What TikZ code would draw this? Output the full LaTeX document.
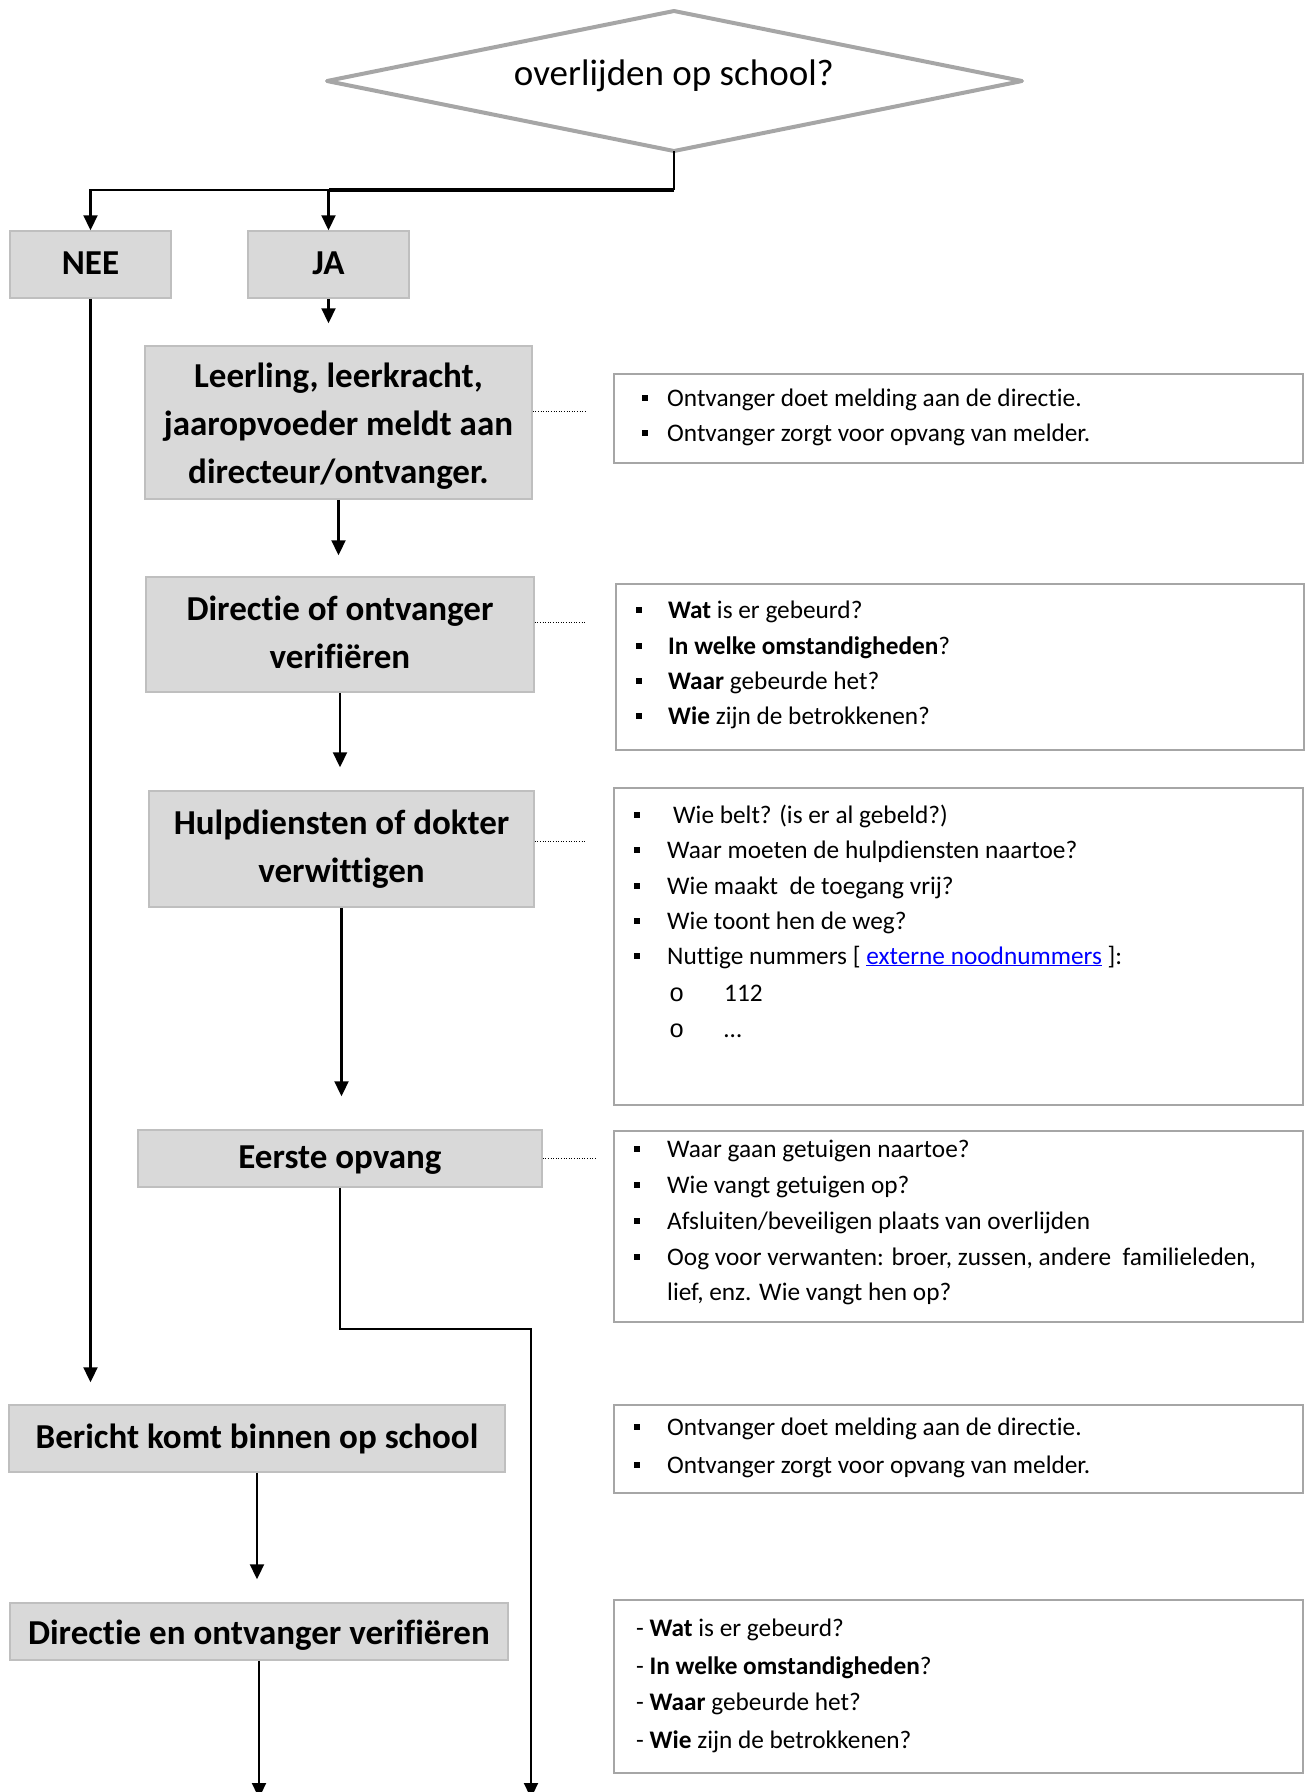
\documentclass[tikz,border=0pt]{standalone}
\usepackage{fontspec}
\setmainfont{Carlito}[Ligatures=NoCommon]
\newfontfamily\subbulfont{Liberation Mono}
\usetikzlibrary{arrows.meta}
\definecolor{boxfill}{HTML}{D9D9D9}
\definecolor{boxline}{HTML}{BFBFBF}
\definecolor{iline}{HTML}{A6A6A6}
\definecolor{dline}{HTML}{A6A6A6}
\definecolor{linkblue}{HTML}{0000FF}
\newcommand\sqb{\rule[5pt]{6pt}{6.5pt}}
\newcommand\bul[1]{\makebox[#1][l]{\sqb}}
\newcommand\subb{\makebox[55pt][l]{\subbulfont o}}
\newcommand\gl[1]{\begin{tabular}{@{}c@{}}#1\end{tabular}}
\newcommand\glshift[2]{\raisebox{#1}[\height][\depth]{\gl{#2}}}
\tikzset{
  gbox/.style={rectangle, fill=boxfill, draw=boxline, line width=1.5pt, inner sep=0pt,
    font=\fontsize{35}{48}\selectfont\bfseries},
  ibox/.style={rectangle, draw=iline, line width=2.5pt, inner sep=0pt},
  itx/.style={anchor=base west, inner sep=0pt, font=\fontsize{25.3}{35}\selectfont},
  conn/.style={line width=2.2pt, draw=black},
  arr/.style={conn, -{Triangle[length=15pt,width=14pt]}},
  dotl/.style={line width=1pt, dash pattern=on 1pt off 1.6pt}
}
\begin{document}
\begin{tikzpicture}[x=1pt,y=-1pt]
\useasboundingbox (0,0) rectangle (1306,1792);
% decision
\coordinate (dtop) at (674,11);
\coordinate (dright) at (1022,81);
\coordinate (dbot) at (674,151);
\coordinate (dleft) at (327,81);
\draw[dline, line width=4pt, line join=round] (dtop) -- (dright) -- (dbot) -- (dleft) -- cycle;
\node[inner sep=0pt, font=\fontsize{37}{44}\selectfont] (dia) at (674,76) {overlijden op school?};
% grey boxes
\node[gbox, minimum width=161, minimum height=67] (nee) at (90.5,264.5) {\gl{NEE}};
\node[gbox, minimum width=161, minimum height=67] (ja) at (328.5,264.5) {\gl{JA}};
\node[gbox, minimum width=387, minimum height=153] (lee) at (338.5,422.5) {\glshift{-3.5pt}{Leerling, leerkracht,\\jaaropvoeder meldt aan\\directeur/ontvanger.}};
\node[gbox, minimum width=388, minimum height=115] (dof) at (340,634.5) {\gl{Directie of ontvanger\\verifiëren}};
\node[gbox, minimum width=385, minimum height=116] (hulp) at (341.5,849) {\gl{Hulpdiensten of dokter\\verwittigen}};
\node[gbox, minimum width=404, minimum height=57] (eer) at (340,1158.5) {\gl{Eerste opvang}};
\node[gbox, minimum width=496, minimum height=67] (ber) at (257,1438.5) {\gl{Bericht komt binnen op school}};
\node[gbox, minimum width=498, minimum height=57] (den) at (259,1631.5) {\glshift{-3pt}{Directie en ontvanger verifiëren}};
% info boxes
\node[ibox, minimum width=689, minimum height=89] (i1) at (958.5,418.5) {};
\node[ibox, minimum width=688, minimum height=166] (i2) at (960,667) {};
\node[ibox, minimum width=689, minimum height=317] (i3) at (958.5,946.5) {};
\node[ibox, minimum width=689, minimum height=191] (i4) at (958.5,1226.5) {};
\node[ibox, minimum width=689, minimum height=88] (i5) at (958.5,1449) {};
\node[ibox, minimum width=689, minimum height=173] (i6) at (958.5,1686.5) {};
% info texts
\node[itx] (t1a) at (642,406) {\bul{25pt}Ontvanger doet melding aan de directie.};
\node[itx] (t1b) at (642,441) {\bul{25pt}Ontvanger zorgt voor opvang van melder.};
\node[itx] (t2a) at (636,618) {\bul{32pt}\textbf{Wat} is er gebeurd?};
\node[itx] (t2b) at (636,654) {\bul{32pt}\textbf{In welke omstandigheden}?};
\node[itx] (t2c) at (636,689) {\bul{32pt}\textbf{Waar} gebeurde het?};
\node[itx] (t2d) at (636,724) {\bul{32pt}\textbf{Wie} zijn de betrokkenen?};
\node[itx] (t3a) at (634,823) {\bul{39pt}Wie belt? (is er al gebeld?)};
\node[itx] (t3b) at (634,858) {\bul{33pt}Waar moeten de hulpdiensten naartoe?};
\node[itx] (t3c) at (634,894) {\bul{33pt}Wie maakt\ \ de toegang vrij?};
\node[itx] (t3d) at (634,929) {\bul{33pt}Wie toont hen de weg?};
\node[itx] (t3e) at (634,964) {\bul{33pt}Nuttige nummers [ \textcolor{linkblue}{\underline{externe noodnummers}} ]:};
\node[itx] (t3f) at (669,1001) {\subb 112};
\node[itx] (t3g) at (669,1037) {\subb\dots};
\node[itx] (t4a) at (634,1157) {\bul{33pt}Waar gaan getuigen naartoe?};
\node[itx] (t4b) at (634,1193) {\bul{33pt}Wie vangt getuigen op?};
\node[itx] (t4c) at (634,1229) {\bul{33pt}Afsluiten/beveiligen plaats van overlijden};
\node[itx] (t4d) at (634,1265) {\bul{33pt}Oog voor verwanten: broer, zussen, andere\ \ familieleden,};
\node[itx] (t4e) at (667,1300) {lief, enz. Wie vangt hen op?};
\node[itx] (t5a) at (634,1435) {\bul{33pt}Ontvanger doet melding aan de directie.};
\node[itx] (t5b) at (634,1473) {\bul{33pt}Ontvanger zorgt voor opvang van melder.};
\node[itx] (t6a) at (636,1636) {- \textbf{Wat} is er gebeurd?};
\node[itx] (t6b) at (636,1674) {- \textbf{In welke omstandigheden}?};
\node[itx] (t6c) at (636,1710) {- \textbf{Waar} gebeurde het?};
\node[itx] (t6d) at (636,1748) {- \textbf{Wie} zijn de betrokkenen?};
% dotted leaders
\draw[dotl] ([yshift=11pt]lee.east) -- ++(53,0);
\draw[dotl] ([yshift=12.5pt]dof.east) -- ++(52,0);
\draw[dotl] ([yshift=8pt]hulp.east) -- ++(52,0);
\draw[dotl] (eer.east) -- ++(53,0);
% connectors
\coordinate (jy) at (0,190);
\draw[conn] (dbot) -- (dbot |- jy);
\draw[conn, line width=4pt] (dbot |- jy) -- (ja.north |- jy);
\draw[arr] (ja.north |- jy) -| (nee.north);
\draw[arr] (ja.north |- jy) -- (ja.north);
\draw[arr, shorten >=22pt] (ja.south) -- (ja.south |- lee.north);
\draw[arr, shorten >=21pt] (lee.south) -- (lee.south |- dof.north);
\draw[arr, shorten >=23pt] (dof.south) -- (dof.south |- hulp.north);
\draw[arr, shorten >=33pt] (hulp.south) -- (hulp.south |- eer.north);
\draw[arr, shorten >=22pt] (nee.south) -- (nee.south |- ber.north);
\coordinate (ecorner) at (531,1329);
\coordinate (eend) at (531,1798);
\draw[arr] (eer.south) |- (ecorner) -- (eend);
\draw[arr, shorten >=23pt] (ber.south) -- (ber.south |- den.north);
\coordinate (dend) at (259,1798);
\draw[arr] (den.south) -- (dend);
\end{tikzpicture}
\end{document}
